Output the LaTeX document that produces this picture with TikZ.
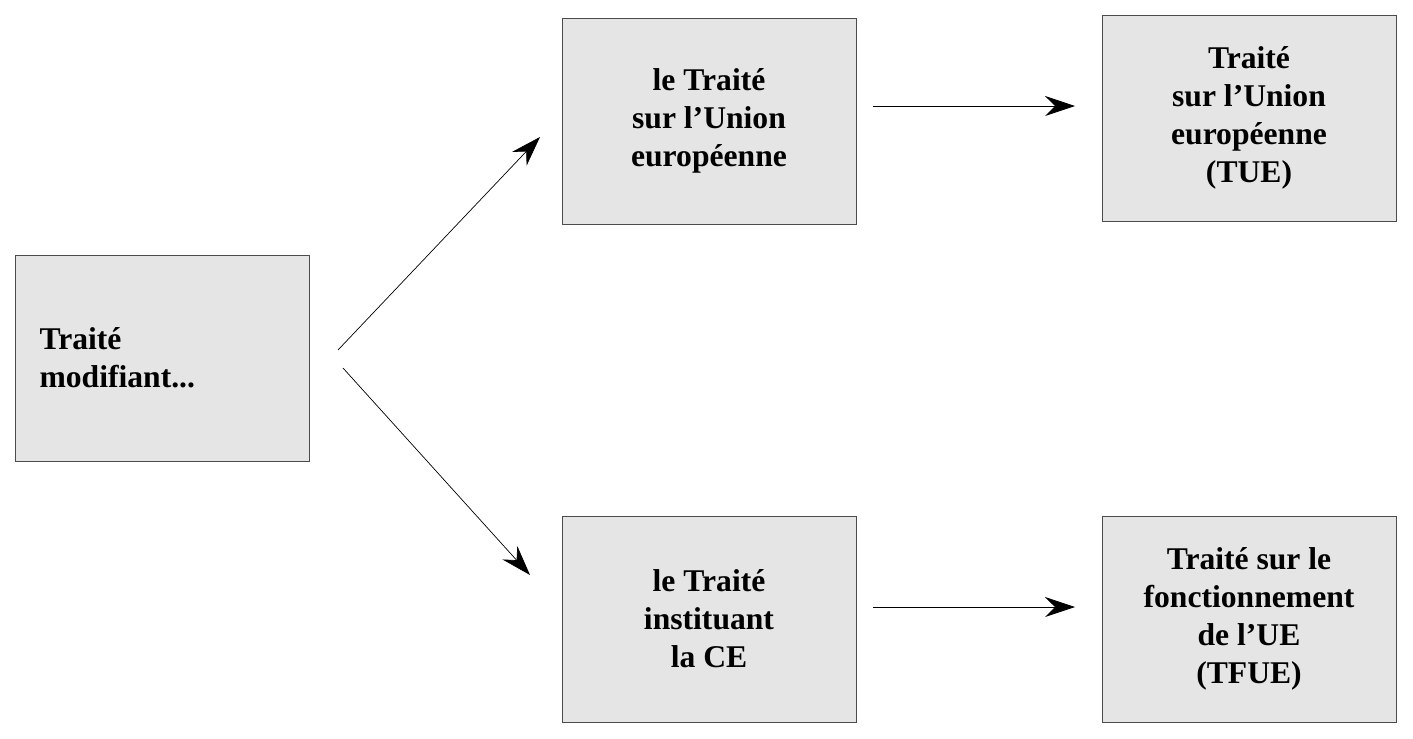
\documentclass[tikz,border=0pt]{standalone}
\usepackage{fontspec}
\setmainfont{Liberation Serif}
\usetikzlibrary{arrows.meta,positioning}
\colorlet{BoxBG}{black!10}
\tikzstyle{treaty}=[draw=black!70,fill=BoxBG,rectangle,minimum width=5.88cm,minimum height=4.12cm,align=center,font=\fontsize{18}{21.6}\selectfont\bfseries]
\tikzset{
    >={Stealth[length=6mm,width=4mm,inset=2mm]}
}
\begin{document}
\begin{tikzpicture}[x=0.02cm,y=-0.02cm]
    \useasboundingbox (0,0) rectangle (1413,738);
    % Boxes
    \node[treaty,align=left,text width=4.9cm] (modif) at (162,358) {Traité\\modifiant...};
    \node[treaty] (tue old) at (709,121) {le Traité\\sur l'Union\\européenne};
    \node[treaty] (tue) at (1249,118) {Traité\\sur l'Union\\européenne\\(TUE)};
    \node[treaty] (ce old) at (709,619) {le Traité\\instituant\\la CE};
    \node[treaty] (tfue) at (1249,619) {Traité sur le\\fonctionnement\\de l'UE\\(TFUE)};

    % Arrow ends
    \coordinate (a1) at (338,350);
    \coordinate (b1) at (540,137);
    \coordinate (a2) at (343,368);
    \coordinate (b2) at (530,575);
    \coordinate (a3) at (873,106);
    \coordinate (b3) at (1075,106);
    \coordinate (a4) at (873,607);
    \coordinate (b4) at (1075,607);
    \draw[->] (a1) -- (b1);
    \draw[->] (a2) -- (b2);
    \draw[->] (a3) -- (b3);
    \draw[->] (a4) -- (b4);
\end{tikzpicture}
\end{document}
